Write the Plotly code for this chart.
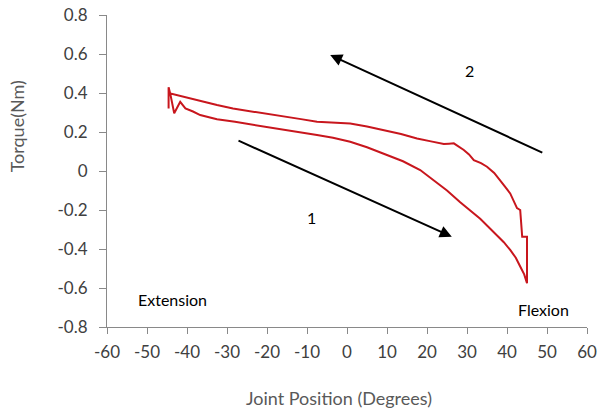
import plotly.graph_objects as go

# Path 1: extension -> flexion (lower branch), then path 2: flexion -> extension (upper branch)
joint_position = [
    -44.6, -44.6, -44.2, -43.2, -41.7, -40.4, -38.5, -36.7, -34.5, -32.5, -28.0, -24.2,
    -20.0, -15.8, -11.5, -7.5, -3.5, 0.8, 5.0, 9.2, 14.0, 18.3, 22.0, 25.0, 28.3,
    31.0, 33.3, 35.5, 37.5, 39.2, 40.8, 42.2, 43.3, 44.3, 45.0,
    45.0, 43.8, 43.6, 43.3, 42.5, 41.6, 40.8, 39.5, 38.3, 36.8, 35.0, 33.5,
    31.7, 30.5, 29.2, 27.8, 26.7, 25.5, 24.2, 21.0, 17.5, 13.5, 9.2, 5.0, 0.8,
    -3.5, -7.5, -11.5, -15.8, -20.0, -24.2, -28.5, -32.5, -36.5, -40.8, -43.0,
    -44.6, -44.6,
]
torque = [
    0.320, 0.430, 0.398, 0.296, 0.355, 0.321, 0.305, 0.287, 0.276, 0.265, 0.252, 0.240,
    0.228, 0.214, 0.200, 0.185, 0.170, 0.150, 0.122, 0.090, 0.050, 0.005, -0.055, -0.100, -0.160,
    -0.205, -0.245, -0.290, -0.330, -0.365, -0.405, -0.445, -0.490, -0.530, -0.576,
    -0.337, -0.337, -0.270, -0.200, -0.190, -0.150, -0.115, -0.080, -0.046, -0.010, 0.022, 0.040,
    0.056, 0.085, 0.108, 0.128, 0.142, 0.140, 0.138, 0.152, 0.167, 0.190, 0.210, 0.228, 0.244,
    0.248, 0.253, 0.266, 0.279, 0.292, 0.304, 0.320, 0.338, 0.358, 0.381, 0.392,
    0.400, 0.320,
]

x_ticks = [-60, -50, -40, -30, -20, -10, 0, 10, 20, 30, 40, 50, 60]
x_tick_text = ["-60", "-50", "-40", "-30", "-20", "-10", "0", "10", "20", "30", "40", "50", "60"]
y_ticks = [0.8, 0.6, 0.4, 0.2, 0, -0.2, -0.4, -0.6, -0.8]
y_tick_text = ["0.8", "0.6", "0.4", "0.2", "0", "-0.2", "-0.4", "-0.6", "-0.8"]

FONT = "Lato"
AX = "#898989"
TXT = "#404040"
TITLE = "#595959"

fig = go.Figure()
fig.add_trace(go.Scatter(
    x=joint_position, y=torque, mode="lines",
    line=dict(color="#C8161D", width=2), showlegend=False, hoverinfo="skip",
))

arrow = dict(xref="x", yref="y", axref="x", ayref="y", showarrow=True,
             arrowhead=2, arrowsize=1.2, arrowwidth=2, arrowcolor="#000000", text="")
fig.add_annotation(x=26.2, y=-0.337, ax=-27.5, ay=0.159, **arrow)
fig.add_annotation(x=-4.2, y=0.595, ax=49.2, ay=0.091, **arrow)

label_font = dict(family=FONT, size=16, color="#000000")
fig.add_annotation(x=30.7, y=0.514, text="2", showarrow=False, font=label_font)
fig.add_annotation(x=-9.0, y=-0.237, text="1", showarrow=False, font=label_font)
fig.add_annotation(x=-43.75, y=-0.66, text="Extension", showarrow=False, font=label_font)
fig.add_annotation(x=49.2, y=-0.71, text="Flexion", showarrow=False, font=label_font)

# axis titles (plot area spans x 107..587, y 15..327 px)
fig.add_annotation(xref="paper", yref="paper", x=0.483, y=-0.228, xanchor="center",
                   yanchor="middle", text="Joint Position (Degrees)", showarrow=False,
                   font=dict(family=FONT, size=18, color=TITLE))
fig.add_annotation(xref="paper", yref="paper", x=-0.187, y=0.644, xanchor="center",
                   yanchor="middle", text="Torque(Nm)", textangle=-90, showarrow=False,
                   font=dict(family=FONT, size=18, color=TITLE))

fig.update_layout(
    width=604, height=416,
    margin=dict(l=107, r=17, t=15, b=89),
    paper_bgcolor="white", plot_bgcolor="white",
    font=dict(family=FONT, color=TXT, size=17),
)
fig.update_xaxes(
    range=[-60, 60], tickvals=x_ticks, ticktext=x_tick_text, ticks="outside", ticklen=6,
    tickcolor=AX, automargin=False, ticklabelstandoff=4, ticklabeloverflow="allow",
    showline=True, linecolor=AX, linewidth=1, showgrid=False, zeroline=False,
    tickfont=dict(family=FONT, size=17, color=TXT),
)
fig.update_yaxes(
    range=[-0.8, 0.8], tickvals=y_ticks, ticktext=y_tick_text, ticks="outside", ticklen=7,
    tickcolor=AX, automargin=False, ticklabelstandoff=8, ticklabeloverflow="allow",
    showline=True, linecolor=AX, linewidth=1, showgrid=False, zeroline=False,
    tickfont=dict(family=FONT, size=17, color=TXT),
)

fig.write_html("out.html", config={"displayModeBar": False},
               post_script="document.body.style.margin='0';")
